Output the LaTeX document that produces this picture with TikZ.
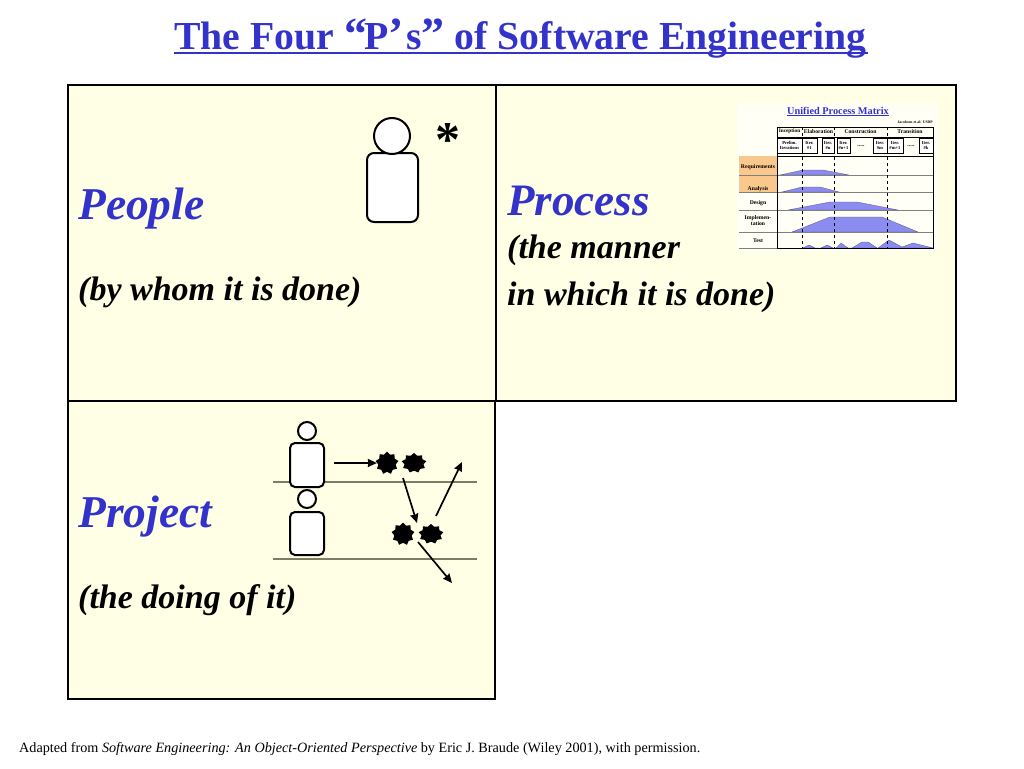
\documentclass[tikz,border=0pt]{standalone}
\usepackage{fontspec}
\setmainfont{Liberation Serif}
\usepackage{xcolor}
\usetikzlibrary{shapes,positioning,arrows.meta}
\definecolor{pblue}{RGB}{51,51,204}
\definecolor{pcream}{RGB}{255,255,229}
\definecolor{porange}{RGB}{250,200,140}
\definecolor{pmound}{RGB}{140,140,240}
\definecolor{prule}{RGB}{125,125,100}
\newcommand{\bigq}[1]{{\fontsize{46}{46}\selectfont #1}}
\tikzset{cell/.style={draw=black,line width=2.6pt,fill=pcream},
  head/.style={circle,draw,line width=2pt,fill=white,minimum size=#1,inner sep=0pt},
  torso/.style={rectangle,rounded corners=7pt,draw,line width=2pt,fill=white,inner sep=0pt},
  blob/.style={star,star points=9,star point ratio=1.3,fill=black,inner sep=0pt,minimum size=#1},
  big/.style={anchor=base west,inner sep=0pt,text=pblue,font=\bfseries\itshape\fontsize{45.5}{45.5}\selectfont},
  sub/.style={anchor=base west,inner sep=0pt,font=\bfseries\itshape\fontsize{34}{34}\selectfont},
  tiny/.style={inner sep=0pt,align=center,font=\bfseries\fontsize{5.7}{6}\selectfont},
  iter/.style={draw,line width=0.3pt,fill=white,inner sep=0pt,minimum height=15pt,align=center,font=\bfseries\fontsize{4.6}{5.2}\selectfont},
  mound/.style={fill=pmound,draw=pmound!60!black,line width=0.3pt},
  flow/.style={-{Stealth[length=9pt,width=8pt,inset=0.5pt]},line width=1.7pt}}

\begin{document}
\begin{tikzpicture}[>=stealth,x=1pt,y=-1pt]
        \useasboundingbox (0,0) rectangle (1024,768);
        \fill[white] (0,0) rectangle (1024,768);

        % title
        \node[anchor=base west,inner sep=0pt,text=pblue,font=\bfseries\fontsize{39.7}{40}\selectfont] (title) at (174,49) {\makebox[0pt][l]{\rule[-5pt]{694pt}{1.7pt}}The Four \bigq{“}\kern-3pt P\bigq{’}\kern-7pt{} s\bigq{”} of Software Engineering};

        % the three cells
        \draw[cell] (68,85) rectangle (496,401);
        \draw[cell] (496,85) rectangle (956,401);
        \draw[cell] (68,401) rectangle (495,699);

        % people
        \node[big] (people) at (78,219) {People};
        \node[sub] (whom) at (78,300) {(by whom it is done)};
        \node[torso,minimum width=51pt,minimum height=69pt] (body) at (392.5,187.5) {};
        \node[head=36pt] (face) at (392,136) {};
        \node[inner sep=0pt,font=\bfseries\fontsize{50}{50}\selectfont] (mark) at (448,140) {*};

        % process
        \node[big,font=\bfseries\itshape\fontsize{45}{45}\selectfont] (process) at (507,215) {Process};
        \node[sub] (manner) at (507,258) {(the manner};
        \node[sub] (which) at (507,305) {in which it is done)};

        % project
        \node[big] (project) at (78,527) {Project};
        \node[sub] (doing) at (78,608) {(the doing of it)};
        \draw[prule,line width=1.2pt] (273,482) -- (477,482);
        \draw[prule,line width=1.2pt] (273,559) -- (477,559);
        \node[torso,rounded corners=5pt,minimum width=34pt,minimum height=44pt] (bodyA) at (307,465) {};
        \node[head=18pt] (faceA) at (307,431) {};
        \node[torso,rounded corners=5pt,minimum width=34pt,minimum height=43pt] (bodyB) at (307,533.5) {};
        \node[head=18pt] (faceB) at (307,499) {};
        \node[blob=23pt] (s1) at (387,463) {};
        \node[blob=20pt,xscale=1.25,transform shape] (s2) at (414,463) {};
        \node[blob=23pt] (s3) at (403,534) {};
        \node[blob=20pt,xscale=1.25,transform shape] (s4) at (431,534) {};
        \coordinate (a) at (403,478);
        \coordinate (b) at (417,523);
        \coordinate (c) at (436,516);
        \coordinate (d) at (462,462);
        \coordinate (e) at (418,542);
        \coordinate (f) at (452,583);
        \draw[flow,shorten <=9pt] (bodyA.east |- s1) -- (s1);
        \draw[flow] (a) -- (b);
        \draw[flow] (c) -- (d);
        \draw[flow] (e) -- (f);

        % process matrix
        \fill[white!60!pcream] (737,103) rectangle (938,251);
        \fill[porange] (739,156) rectangle (777,192);
        \node[tiny,text=pblue,font=\bfseries\fontsize{10.3}{10.3}\selectfont] (um) at (838,111.5) {\underline{Unified Process Matrix}};
        \node[tiny,anchor=east,font=\bfseries\fontsize{3.8}{4}\selectfont] (src) at (933,122) {Jacobson et al: USDP};

        \draw[mound] (780,175) -- (803,170) -- (823,170) -- (849,175) -- cycle;
        \draw[mound] (782,192) -- (802,187) -- (820,187) -- (839,192) -- cycle;
        \draw[mound] (788,210) -- (830,202) -- (857,202) -- (898,210) -- cycle;
        \draw[mound] (792,232) -- (830,217) -- (882,217) -- (918,232) -- cycle;
        \draw[mound] (803,248) -- (809,245) -- (815,248) -- (821,248) -- (827,245) -- (833,248) -- (836,248) -- (841,243) -- (848,248) -- (852,248) -- (862,242) -- (868,242) -- (877,248) -- (878,248) -- (889,240) -- (902,247) -- (913,243) -- (933,248) -- cycle;

        \foreach \rowy in {175,192,210,232}
            \draw[gray,line width=0.7pt] (739,\rowy) -- (933,\rowy);
        \draw[gray,line width=0.7pt] (739,248) -- (777,248);
        \draw[line width=0.7pt] (777,127) rectangle (933,248);
        \draw[line width=0.5pt] (777,137) -- (933,137);
        \draw[line width=0.5pt] (777,156) -- (933,156);
        \draw[line width=0.6pt,dashed] (802,127) -- (802,248);
        \draw[line width=0.6pt,dashed] (834,127) -- (834,248);
        \draw[line width=0.6pt,dashed] (887,127) -- (887,248);

        \node[tiny,font=\bfseries\fontsize{5.3}{6}\selectfont] (ph1) at (789.5,131.5) {Inception};
        \node[tiny] (ph2) at (818.5,131.5) {Elaboration};
        \node[tiny] (ph3) at (860.5,131.5) {Construction};
        \node[tiny] (ph4) at (910,131.5) {Transition};

        \node[iter,minimum width=25pt] (i0) at (789.5,145.5) {Prelim.\\Iterations};
        \node[iter,minimum width=15pt] (i1) at (809.5,145.5) {Iter.\\\#1};
        \node[iter,minimum width=12pt] (i2) at (828,145.5) {Iter.\\\#n};
        \node[iter,minimum width=13pt] (i3) at (843.5,145.5) {Iter.\\\#n+1};
        \node[iter,minimum width=14pt] (i4) at (880,145.5) {Iter.\\\#m};
        \node[iter,minimum width=16pt] (i5) at (895,145.5) {Iter.\\\#m+1};
        \node[iter,minimum width=14pt] (i6) at (926,145.5) {Iter.\\\#k};
        \node[tiny] (gap1) at (861,146) {.....};
        \node[tiny] (gap2) at (911,146) {.....};

        \node[tiny] (r1) at (758,167) {Requirements};
        \node[tiny] (r2) at (758,189.5) {Analysis};
        \node[tiny] (r3) at (758,203) {Design};
        \node[tiny] (r4) at (758,221) {Implemen-\\tation};
        \node[tiny] (r5) at (758,241) {Test};

        % credit
        \node[anchor=base west,inner sep=0pt,font=\fontsize{14.2}{15}\selectfont] (credit) at (19,752) {Adapted from \textit{Software Engineering: An Object-Oriented Perspective} by Eric J. Braude (Wiley 2001), with permission.};
    \end{tikzpicture}
\end{document}
